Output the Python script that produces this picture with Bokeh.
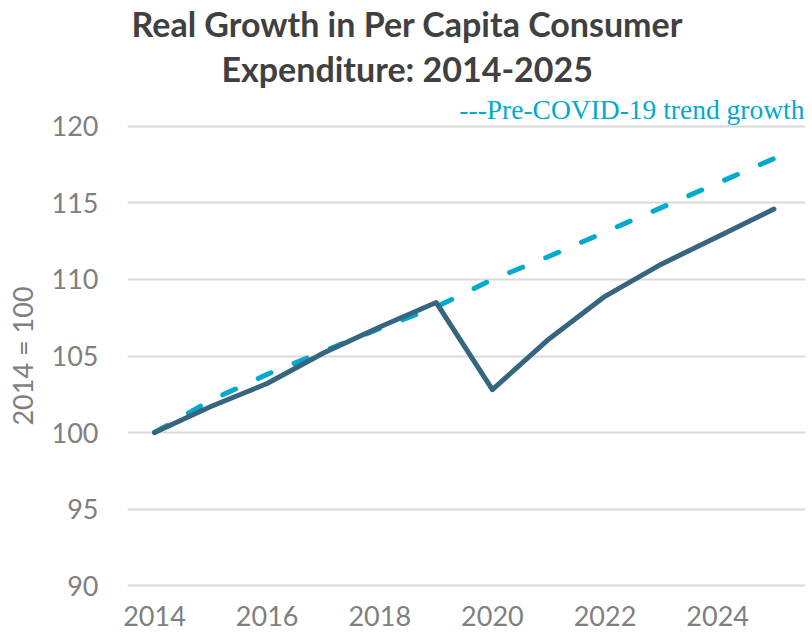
from bokeh.plotting import figure
from bokeh.models import FixedTicker, Range1d, Title
from bokeh.embed import file_html
from bokeh.resources import INLINE

# ---- data ----
years = list(range(2014, 2026))
actual = [100.0, 101.7, 103.2, 105.2, 106.9, 108.5, 102.8, 106.1, 108.9, 111.0, 112.8, 114.6]
trend = [100.0, 102.1, 103.8, 105.3, 106.8, 108.2, 110.0, 111.5, 113.1, 114.7, 116.3, 117.9]
x_ticks = [2014, 2016, 2018, 2020, 2022, 2024]
y_ticks = [90, 95, 100, 105, 110, 115, 120]
title_lines = ["Real Growth in Per Capita Consumer", "Expenditure: 2014-2025"]
trend_label = "---Pre-COVID-19 trend growth"
y_label = "2014 = 100"

TICK_GRAY = "#7F7F7F"
SOLID = "#35657F"
CYAN = "#00AACF"

p = figure(frame_width=678, frame_height=463, output_backend="svg", toolbar_location=None,
           x_range=Range1d(2013.52, 2025.56), y_range=Range1d(89.87, 120.13),
           min_border_left=127, min_border_right=7, min_border_top=124,
           min_border_bottom=51)
p.outline_line_color = None
p.background_fill_color = "white"
p.border_fill_color = "white"

p.line(years, trend, line_color=CYAN, line_width=5, line_dash="14 25",
       line_cap="round")
p.line(years, actual, line_color=SOLID, line_width=5, line_join="round",
       line_cap="round")

p.xaxis.ticker = FixedTicker(ticks=x_ticks)
p.yaxis.ticker = FixedTicker(ticks=y_ticks)
p.xgrid.grid_line_color = None
p.ygrid.grid_line_color = "#D9D9D9"
p.ygrid.grid_line_width = 2

for ax in (p.xaxis[0], p.yaxis[0]):
    ax.axis_line_color = None
    ax.major_tick_line_color = None
    ax.minor_tick_line_color = None
    ax.major_tick_out = 0
    ax.major_tick_in = 0
    ax.minor_tick_out = 0
    ax.major_label_text_font = "Lato"
    ax.major_label_text_font_size = "27px"
    ax.major_label_text_color = TICK_GRAY

p.xaxis.major_label_standoff = 18
p.yaxis.major_label_standoff = 29
p.yaxis.axis_label = y_label
p.yaxis.axis_label_text_font = "Lato"
p.yaxis.axis_label_text_font_size = "27px"
p.yaxis.axis_label_text_font_style = "normal"
p.yaxis.axis_label_text_color = TICK_GRAY
p.yaxis.axis_label_standoff = 10

# above panels: first added sits closest to the frame
p.add_layout(Title(text=trend_label, align="right", offset=1, standoff=0,
                   text_font="Liberation Serif", text_font_size="27.5px",
                   text_font_style="normal", text_color=CYAN), "above")
p.add_layout(Title(text=title_lines[1], align="left", offset=94, standoff=5,
                   text_font="Lato", text_font_size="34px", text_font_style="bold",
                   text_color="#404040"), "above")
p.add_layout(Title(text=title_lines[0], align="left", offset=4, standoff=0,
                   text_font="Lato", text_font_size="34px", text_font_style="bold",
                   text_color="#404040"), "above")

open("out.html", "w").write(file_html(p, INLINE))
